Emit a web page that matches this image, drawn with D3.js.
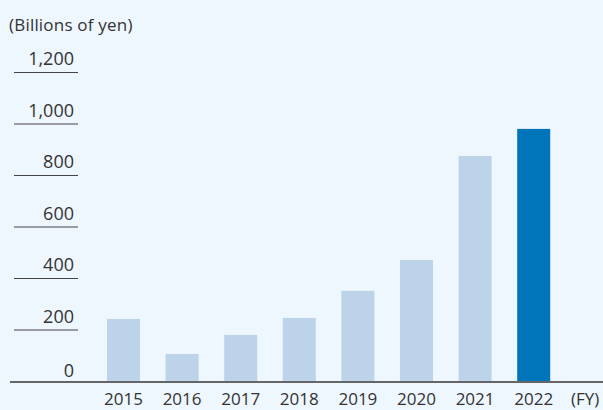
<!DOCTYPE html>
<html>
<head>
<meta charset="utf-8">
<script src="https://cdn.jsdelivr.net/npm/d3@7"></script>
<style>
  html, body { margin: 0; padding: 0; background: #eef6fe; }
  svg { display: block; font-family: "Open Sans", "Noto Sans", sans-serif; }
</style>
</head>
<body>
<div id="chart"></div>
<script>
  'use strict';

  // fiscal years and values (billions of yen)
  var years = ['2015', '2016', '2017', '2018', '2019', '2020', '2021', '2022'];
  var values = [241, 105, 179, 245, 350, 470, 874, 979];
  var yTicks = [0, 200, 400, 600, 800, 1000, 1200];
  var highlightYear = '2022';

  var width = 603,
      height = 410;

  var svg = d3.select('#chart')
    .append('svg')
    .attr('width', width)
    .attr('height', height);

  var x = d3.scaleBand()
    .domain(years)
    .range([94.2, 563])
    .paddingInner(0.437)
    .paddingOuter(0.2185);

  var y = d3.scaleLinear()
    .domain([0, 1200])
    .range([381, 72]);

  // unit caption
  svg.append('text')
    .attr('x', 9)
    .attr('y', 31)
    .attr('font-size', 17)
    .attr('letter-spacing', 0.2)
    .attr('fill', '#333')
    .text('(Billions of yen)');

  // short gridlines, labels sit on them
  svg.selectAll('line.grid')
    .data(yTicks.filter(function (d) { return d > 0; }))
    .enter()
    .append('line')
      .attr('class', 'grid')
      .attr('x1', 14)
      .attr('x2', 78)
      .attr('y1', function (d) { return y(d) + 0.5; })
      .attr('y2', function (d) { return y(d) + 0.5; })
      .attr('stroke', '#444')
      .attr('stroke-width', 1);

  svg.selectAll('text.ylabel')
    .data(yTicks)
    .enter()
    .append('text')
      .attr('class', 'ylabel')
      .attr('x', 74)
      .attr('y', function (d) { return d === 0 ? y(d) - 4 : y(d) - 7; })
      .attr('text-anchor', 'end')
      .attr('font-size', 18)
      .attr('fill', '#333')
      .text(function (d) { return d3.format(',')(d); });

  // bars
  svg.selectAll('rect.bar')
    .data(values)
    .enter()
    .append('rect')
      .attr('class', 'bar')
      .attr('x', function (d, i) { return x(years[i]); })
      .attr('width', x.bandwidth())
      .attr('y', function (d) { return y(d); })
      .attr('height', function (d) { return y(0) - y(d); })
      .attr('fill', function (d, i) {
        return years[i] === highlightYear ? '#0075ba' : '#bdd3ea';
      });

  // baseline
  svg.append('line')
    .attr('x1', 10)
    .attr('x2', width)
    .attr('y1', y(0) + 1)
    .attr('y2', y(0) + 1)
    .attr('stroke', '#666')
    .attr('stroke-width', 2);

  // x labels
  svg.selectAll('text.xlabel')
    .data(years)
    .enter()
    .append('text')
      .attr('class', 'xlabel')
      .attr('x', function (d) { return x(d) + x.bandwidth() / 2; })
      .attr('y', 405)
      .attr('text-anchor', 'middle')
      .attr('font-size', 17)
      .attr('fill', '#333')
      .text(function (d) { return d; });

  svg.append('text')
    .attr('x', 571)
    .attr('y', 405)
    .attr('font-size', 17)
    .attr('fill', '#333')
    .text('(FY)');
</script>
</body>
</html>
